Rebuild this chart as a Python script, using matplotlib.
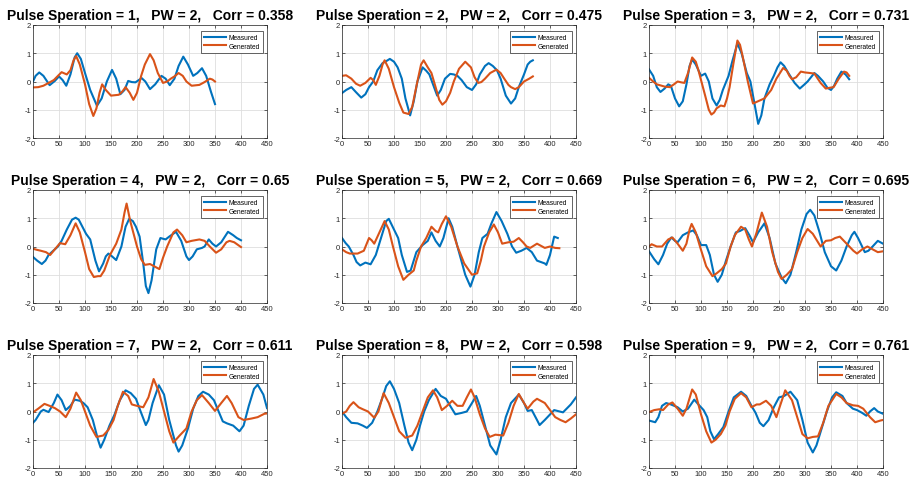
import matplotlib.pyplot as plt

plt.rcParams['font.family'] = ['Liberation Sans', 'DejaVu Sans']
plt.rcParams['axes.unicode_minus'] = False

separations = [1, 2, 3, 4, 5, 6, 7, 8, 9]
pulse_width = 2
corr = ['0.358', '0.475', '0.731', '0.65', '0.669', '0.695', '0.611', '0.598', '0.761']

# (sample, amplitude) pairs for each measured / generated trace
meas_1 = [(0, 0.0), (5, 0.2), (12, 0.32), (20, 0.2), (32, -0.13), (42, 0.02), (50, 0.18), (57, 0.05),
          (64, -0.15), (72, 0.25), (80, 0.85), (85, 1.0), (92, 0.8), (100, 0.3), (110, -0.3), (123, -0.86),
          (132, -0.6), (142, 0.0), (152, 0.41), (160, 0.1), (168, -0.45), (176, -0.3), (183, 0.02),
          (190, -0.02), (197, -0.03), (209, 0.12), (216, 0.0), (225, -0.27), (235, -0.1), (247, 0.2),
          (255, 0.1), (263, -0.13), (272, 0.1), (280, 0.55), (289, 0.88), (298, 0.6), (308, 0.2),
          (316, 0.3), (325, 0.47), (333, 0.2), (342, -0.35), (350, -0.8)]
gen_1 = [(0, -0.21), (10, -0.2), (20, -0.15), (30, -0.05), (40, 0.05), (48, 0.2), (55, 0.33), (65, 0.25),
         (72, 0.4), (78, 0.75), (83, 0.9), (90, 0.6), (100, -0.1), (108, -0.8), (116, -1.22), (122, -0.95),
         (128, -0.4), (133, -0.1), (140, -0.3), (150, -0.5), (165, -0.47), (172, -0.35), (178, -0.2),
         (186, -0.4), (193, -0.65), (200, -0.4), (208, 0.2), (215, 0.6), (225, 0.97), (232, 0.75),
         (240, 0.3), (250, -0.05), (258, 0.0), (265, 0.1), (272, 0.18), (280, 0.3), (288, 0.2), (295, 0.0),
         (305, -0.15), (320, -0.12), (330, -0.02), (340, 0.1), (345, 0.07), (350, 0.0)]

meas_2 = [(0, -0.41), (8, -0.3), (18, -0.2), (27, -0.38), (37, -0.57), (45, -0.45), (52, -0.2), (60, 0.0),
          (68, 0.4), (78, 0.65), (85, 0.72), (92, 0.8), (100, 0.7), (107, 0.5), (115, 0.1), (122, -0.6),
          (131, -1.2), (138, -0.7), (145, 0.0), (155, 0.5), (162, 0.38), (168, 0.25), (175, -0.1),
          (183, -0.5), (190, -0.3), (198, 0.1), (208, 0.27), (215, 0.25), (222, 0.2), (230, 0.05),
          (240, -0.2), (250, -0.3), (258, -0.1), (265, 0.25), (275, 0.55), (282, 0.65), (290, 0.55),
          (298, 0.4), (305, 0.1), (315, -0.5), (325, -0.78), (333, -0.6), (340, -0.2), (350, 0.25),
          (357, 0.6), (362, 0.7), (367, 0.75)]
gen_2 = [(0, 0.2), (8, 0.22), (18, 0.1), (27, -0.08), (35, -0.15), (45, -0.05), (55, 0.13), (60, 0.05),
         (65, -0.12), (72, 0.2), (78, 0.6), (82, 0.75), (90, 0.45), (100, -0.2), (110, -0.75), (118, -1.1),
         (128, -1.15), (135, -0.9), (145, 0.0), (152, 0.6), (157, 0.75), (165, 0.5), (172, 0.3),
         (180, -0.2), (187, -0.65), (193, -0.82), (200, -0.7), (208, -0.4), (215, 0.0), (225, 0.45),
         (237, 0.7), (248, 0.5), (255, 0.15), (262, -0.05), (268, -0.02), (275, 0.1), (285, 0.3),
         (297, 0.42), (305, 0.3), (312, 0.1), (320, -0.12), (325, -0.2), (333, -0.27), (340, -0.2),
         (350, 0.0), (360, 0.1), (367, 0.18)]

meas_3 = [(0, 0.43), (8, 0.2), (15, -0.2), (22, -0.37), (30, -0.25), (37, -0.1), (42, -0.15), (50, -0.6),
          (58, -0.88), (65, -0.7), (72, -0.1), (78, 0.55), (83, 0.78), (90, 0.6), (100, 0.2), (108, 0.28),
          (115, 0.0), (122, -0.6), (130, -0.85), (136, -0.65), (142, -0.3), (153, 0.2), (160, 0.7),
          (170, 1.35), (178, 1.0), (188, 0.3), (195, 0.0), (202, -0.7), (210, -1.5), (216, -1.2),
          (222, -0.6), (232, -0.1), (240, 0.2), (247, 0.5), (253, 0.68), (260, 0.55), (268, 0.3),
          (280, -0.05), (290, -0.25), (298, -0.12), (305, 0.0), (318, 0.3), (325, 0.2), (335, 0.0),
          (343, -0.22), (350, -0.3), (356, -0.15), (362, 0.1), (370, 0.35), (378, 0.25), (385, 0.08)]
gen_3 = [(0, 0.13), (8, 0.0), (15, -0.1), (30, -0.18), (40, -0.2), (48, -0.1), (55, 0.0), (62, -0.03),
         (68, -0.05), (75, 0.3), (83, 0.85), (90, 0.7), (95, 0.4), (108, -0.5), (115, -1.0), (120, -1.17),
         (125, -1.1), (130, -0.95), (138, -0.85), (145, -0.88), (150, -0.6), (155, -0.2), (162, 0.6),
         (170, 1.45), (175, 1.3), (180, 0.9), (190, 0.0), (200, -0.78), (212, -0.68), (222, -0.6),
         (235, -0.3), (245, 0.1), (258, 0.48), (265, 0.38), (270, 0.2), (275, 0.08), (283, 0.15),
         (292, 0.35), (300, 0.32), (310, 0.3), (318, 0.28), (330, -0.05), (340, -0.25), (348, -0.22),
         (355, -0.2), (365, 0.1), (375, 0.35), (380, 0.32), (385, 0.2)]

meas_4 = [(0, -0.37), (8, -0.5), (17, -0.62), (24, -0.5), (30, -0.3), (42, -0.1), (48, 0.0), (55, 0.2),
          (65, 0.6), (75, 0.95), (82, 1.02), (88, 0.95), (95, 0.7), (102, 0.45), (110, 0.25), (120, -0.5),
          (127, -0.88), (135, -0.6), (140, -0.35), (145, -0.25), (152, -0.35), (160, -0.48), (170, 0.0),
          (178, 0.7), (185, 0.98), (192, 0.9), (198, 0.7), (205, 0.35), (212, -0.6), (217, -1.4),
          (222, -1.65), (228, -1.2), (237, -0.1), (245, 0.3), (255, 0.25), (262, 0.35), (275, 0.52),
          (285, 0.2), (295, -0.35), (300, -0.48), (307, -0.35), (315, -0.1), (325, -0.05), (330, 0.0),
          (338, 0.25), (345, 0.1), (352, 0.0), (362, 0.15), (375, 0.52), (385, 0.4), (392, 0.3), (400, 0.22)]
gen_4 = [(0, -0.08), (8, -0.12), (15, -0.15), (25, -0.2), (33, -0.3), (42, -0.1), (52, 0.12), (57, 0.1),
         (62, 0.08), (72, 0.4), (82, 0.82), (90, 0.5), (100, -0.2), (108, -0.8), (117, -1.08), (125, -1.05),
         (130, -1.05), (137, -0.85), (148, -0.3), (160, 0.1), (170, 0.6), (176, 1.2), (180, 1.52),
         (187, 0.9), (200, 0.0), (208, -0.45), (215, -0.65), (225, -0.62), (235, -0.72), (243, -0.8),
         (250, -0.4), (258, 0.0), (270, 0.5), (277, 0.6), (287, 0.4), (295, 0.15), (305, 0.2), (320, 0.25),
         (330, 0.2), (340, 0.0), (352, -0.22), (362, -0.1), (372, 0.15), (378, 0.2), (387, 0.15), (400, -0.02)]

meas_5 = [(0, 0.3), (7, 0.12), (13, 0.0), (22, -0.3), (28, -0.55), (35, -0.67), (45, -0.57), (55, -0.63),
          (65, -0.3), (75, 0.3), (85, 0.9), (90, 0.98), (100, 0.6), (108, 0.3), (115, -0.3), (125, -0.9),
          (132, -0.85), (143, -0.2), (155, 0.05), (165, 0.2), (172, 0.5), (180, 0.2), (188, 0.0),
          (195, 0.3), (205, 1.0), (212, 0.7), (222, 0.0), (237, -1.0), (247, -1.42), (255, -1.0),
          (263, -0.2), (270, 0.3), (280, 0.45), (287, 0.8), (297, 1.22), (307, 0.9), (318, 0.45),
          (327, 0.0), (335, -0.22), (345, -0.15), (355, -0.05), (365, -0.2), (375, -0.5), (390, -0.6),
          (393, -0.65), (400, -0.3), (408, 0.35), (415, 0.3)]
gen_5 = [(0, -0.1), (8, -0.2), (15, -0.25), (30, -0.25), (42, -0.15), (52, 0.3), (57, 0.22), (62, 0.1),
         (72, 0.5), (82, 0.9), (90, 0.6), (98, 0.0), (108, -0.7), (118, -1.18), (128, -1.0), (138, -0.85),
         (143, -0.5), (152, 0.0), (162, 0.3), (172, 0.7), (180, 0.55), (185, 0.5), (192, 0.8), (200, 1.07),
         (210, 0.7), (222, 0.0), (235, -0.6), (250, -1.0), (260, -0.95), (267, -0.5), (273, 0.0),
         (283, 0.5), (292, 0.78), (300, 0.5), (308, 0.1), (320, 0.15), (330, 0.17), (340, 0.3),
         (348, 0.15), (355, 0.0), (362, -0.05), (375, 0.1), (390, -0.05), (400, 0.0), (410, -0.05),
         (418, -0.06)]

meas_6 = [(0, -0.17), (10, -0.45), (18, -0.63), (27, -0.3), (35, 0.1), (43, 0.32), (50, 0.2), (55, 0.15),
          (65, 0.4), (75, 0.5), (85, 0.57), (92, 0.4), (100, 0.05), (110, 0.05), (117, -0.3), (125, -1.0),
          (132, -1.25), (140, -1.0), (148, -0.5), (157, 0.0), (167, 0.5), (175, 0.55), (185, 0.65),
          (193, 0.4), (200, 0.15), (210, 0.5), (222, 0.82), (232, 0.3), (243, -0.6), (255, -1.1),
          (263, -1.3), (272, -1.0), (283, -0.2), (293, 0.6), (303, 1.15), (310, 1.3), (318, 1.1),
          (328, 0.5), (338, -0.2), (350, -0.7), (360, -0.85), (370, -0.5), (380, 0.0), (390, 0.4),
          (395, 0.52), (402, 0.3), (415, -0.2), (422, -0.15), (430, 0.0), (440, 0.2), (450, 0.1)]
gen_6 = [(0, 0.0), (5, 0.08), (15, 0.0), (25, 0.0), (37, 0.25), (45, 0.32), (55, 0.1), (65, -0.15),
         (72, 0.1), (78, 0.6), (82, 0.8), (90, 0.5), (98, 0.0), (110, -0.7), (122, -1.05), (130, -0.95),
         (140, -0.8), (148, -0.6), (157, 0.0), (165, 0.4), (177, 0.7), (185, 0.6), (192, 0.25), (198, 0.0),
         (207, 0.5), (217, 1.2), (227, 0.7), (237, -0.2), (248, -0.9), (255, -1.15), (265, -1.0),
         (275, -0.8), (285, -0.2), (295, 0.3), (305, 0.62), (315, 0.45), (330, 0.0), (340, 0.2),
         (350, 0.22), (358, 0.3), (367, 0.35), (380, 0.1), (393, -0.15), (400, -0.25), (410, -0.1),
         (420, 0.0), (430, -0.1), (440, -0.2), (450, -0.17)]

meas_7 = [(0, -0.4), (5, -0.3), (15, 0.0), (20, 0.06), (30, -0.02), (40, 0.3), (47, 0.6), (55, 0.4),
          (63, 0.05), (72, 0.2), (80, 0.42), (90, 0.38), (97, 0.3), (105, 0.15), (115, -0.3), (125, -1.0),
          (130, -1.28), (137, -1.0), (147, -0.5), (157, -0.1), (167, 0.4), (178, 0.75), (188, 0.65),
          (198, 0.45), (207, 0.0), (217, -0.48), (222, -0.3), (230, 0.3), (242, 0.93), (252, 0.6),
          (262, -0.3), (275, -1.2), (280, -1.42), (287, -1.2), (298, -0.6), (308, 0.1), (318, 0.55),
          (327, 0.7), (338, 0.6), (348, 0.4), (357, 0.0), (365, -0.35), (373, -0.42), (385, -0.5),
          (397, -0.7), (405, -0.5), (415, 0.2), (425, 0.8), (432, 0.95), (443, 0.6), (450, 0.12)]
gen_7 = [(0, -0.03), (10, 0.1), (22, 0.27), (32, 0.2), (42, 0.12), (52, 0.0), (63, -0.2), (72, 0.1),
         (83, 0.67), (92, 0.4), (100, 0.0), (110, -0.5), (122, -0.9), (135, -0.85), (145, -0.65),
         (155, -0.3), (163, 0.2), (173, 0.7), (183, 0.55), (190, 0.25), (200, 0.2), (212, 0.15), (222, 0.5),
         (232, 1.15), (242, 0.7), (252, 0.0), (262, -0.7), (270, -1.1), (282, -0.85), (295, -0.6),
         (305, 0.0), (315, 0.4), (325, 0.58), (338, 0.3), (350, 0.02), (362, 0.3), (373, 0.55), (382, 0.3),
         (395, -0.2), (405, -0.3), (420, -0.25), (432, -0.2), (445, -0.08), (450, -0.07)]

meas_8 = [(0, 0.0), (8, -0.2), (18, -0.4), (30, -0.42), (40, -0.5), (48, -0.58), (58, -0.4), (68, 0.0),
          (78, 0.5), (85, 0.9), (92, 1.07), (100, 0.8), (110, 0.3), (120, -0.5), (128, -1.1), (135, -1.37),
          (143, -1.0), (150, -0.5), (158, 0.0), (167, 0.4), (180, 0.8), (190, 0.55), (200, 0.45),
          (208, 0.2), (218, -0.1), (230, -0.05), (240, 0.0), (250, 0.3), (258, 0.55), (265, 0.2),
          (275, -0.5), (285, -1.2), (297, -1.52), (305, -1.0), (315, -0.2), (325, 0.3), (340, 0.6),
          (350, 0.3), (357, 0.02), (365, 0.05), (375, -0.3), (380, -0.48), (390, -0.3), (408, 0.05),
          (425, -0.03), (440, 0.25), (450, 0.5)]
gen_8 = [(0, -0.08), (8, 0.0), (15, 0.2), (22, 0.33), (32, 0.15), (40, 0.08), (50, 0.0), (62, -0.22),
         (70, 0.0), (80, 0.65), (90, 0.3), (100, -0.2), (110, -0.7), (122, -0.93), (135, -0.85),
         (145, -0.5), (155, 0.0), (165, 0.5), (175, 0.75), (183, 0.5), (192, 0.05), (202, 0.2), (212, 0.38),
         (222, 0.2), (232, 0.2), (240, 0.5), (248, 0.78), (255, 0.5), (265, -0.1), (275, -0.6), (284, -0.9),
         (295, -0.82), (310, -0.85), (320, -0.4), (330, 0.2), (340, 0.62), (350, 0.3), (357, 0.1),
         (368, 0.35), (375, 0.45), (390, 0.3), (400, 0.05), (410, -0.2), (420, -0.3), (430, -0.38),
         (440, -0.25), (450, -0.1)]

meas_9 = [(0, -0.32), (12, -0.38), (18, -0.2), (25, 0.2), (33, 0.3), (42, 0.25), (55, 0.15), (65, 0.0),
          (75, 0.1), (87, 0.42), (95, 0.25), (105, 0.05), (112, -0.2), (118, -0.7), (125, -0.98),
          (133, -0.8), (143, -0.55), (153, 0.0), (163, 0.5), (177, 0.7), (187, 0.55), (197, 0.2),
          (205, -0.05), (213, -0.4), (220, -0.52), (230, -0.3), (240, 0.15), (250, 0.5), (260, 0.55),
          (272, 0.7), (285, 0.4), (295, -0.3), (305, -1.1), (315, -1.45), (322, -1.2), (332, -0.6),
          (342, 0.0), (352, 0.5), (360, 0.68), (372, 0.55), (380, 0.3), (392, 0.1), (400, 0.05),
          (410, -0.05), (418, -0.15), (425, 0.0), (433, 0.12), (440, 0.0), (450, -0.08)]
gen_9 = [(0, -0.02), (10, 0.05), (20, 0.08), (27, 0.05), (37, 0.25), (45, 0.32), (55, 0.1), (65, -0.15),
         (72, 0.1), (83, 0.78), (90, 0.6), (100, -0.1), (110, -0.7), (120, -1.1), (128, -1.0), (138, -0.8),
         (147, -0.5), (155, 0.0), (165, 0.45), (177, 0.65), (187, 0.5), (197, 0.15), (207, 0.25),
         (213, 0.25), (225, 0.38), (235, 0.2), (245, -0.2), (252, 0.2), (262, 0.75), (275, 0.4),
         (285, -0.2), (295, -0.8), (305, -0.95), (315, -0.9), (325, -0.88), (335, -0.4), (345, 0.2),
         (360, 0.62), (370, 0.5), (380, 0.3), (392, 0.22), (402, 0.2), (412, 0.1), (425, -0.2),
         (435, -0.38), (445, -0.32), (450, -0.3)]

measured = [meas_1, meas_2, meas_3, meas_4, meas_5, meas_6, meas_7, meas_8, meas_9]
generated = [gen_1, gen_2, gen_3, gen_4, gen_5, gen_6, gen_7, gen_8, gen_9]

BLUE = '#0072BD'
ORANGE = '#D95319'
AX_COL = '#262626'

W, H = 911, 485
col_left = [33, 342, 649]
row_top = [26, 191, 356]
ax_w, ax_h = 234, 113

fig = plt.figure(figsize=(W / 100, H / 100), dpi=100)

for i in range(9):
    r, c = divmod(i, 3)
    ax = fig.add_axes([col_left[c] / W, 1 - (row_top[r] + ax_h) / H, ax_w / W, ax_h / H])

    mx, my = zip(*measured[i])
    gx, gy = zip(*generated[i])
    ax.plot(mx, my, color=BLUE, lw=1.5, solid_joinstyle='round', label='Measured')
    ax.plot(gx, gy, color=ORANGE, lw=1.5, solid_joinstyle='round', label='Generated')

    ax.set_xlim(0, 450)
    ax.set_ylim(-2, 2)
    ax.set_xticks(range(0, 451, 50))
    ax.set_yticks([-2, -1, 0, 1, 2])
    ax.grid(True, color='#dedede', lw=0.6)
    ax.set_axisbelow(True)
    ax.tick_params(direction='in', length=2, width=0.5, labelsize=5.5, colors=AX_COL,
                   top=True, right=True, pad=1.5)
    for s in ax.spines.values():
        s.set_color(AX_COL)
        s.set_linewidth(0.5)

    ax.set_title('Pulse Speration = {},   PW = {},   Corr = {}'.format(separations[i], pulse_width, corr[i]),
                 fontsize=10, fontweight='bold', pad=4)
    # legend box sits a few pixels in from the top-right corner
    leg = ax.legend(loc='upper right', bbox_to_anchor=(1 - 4 / ax_w, 1 - 6 / ax_h), borderaxespad=0,
                    fontsize=4.8, fancybox=False, framealpha=1, handlelength=3.3, borderpad=0.45,
                    labelspacing=0.25, handletextpad=0.4)
    leg.get_frame().set_edgecolor(AX_COL)
    leg.get_frame().set_linewidth(0.5)

fig.savefig('out.png', dpi=100)
